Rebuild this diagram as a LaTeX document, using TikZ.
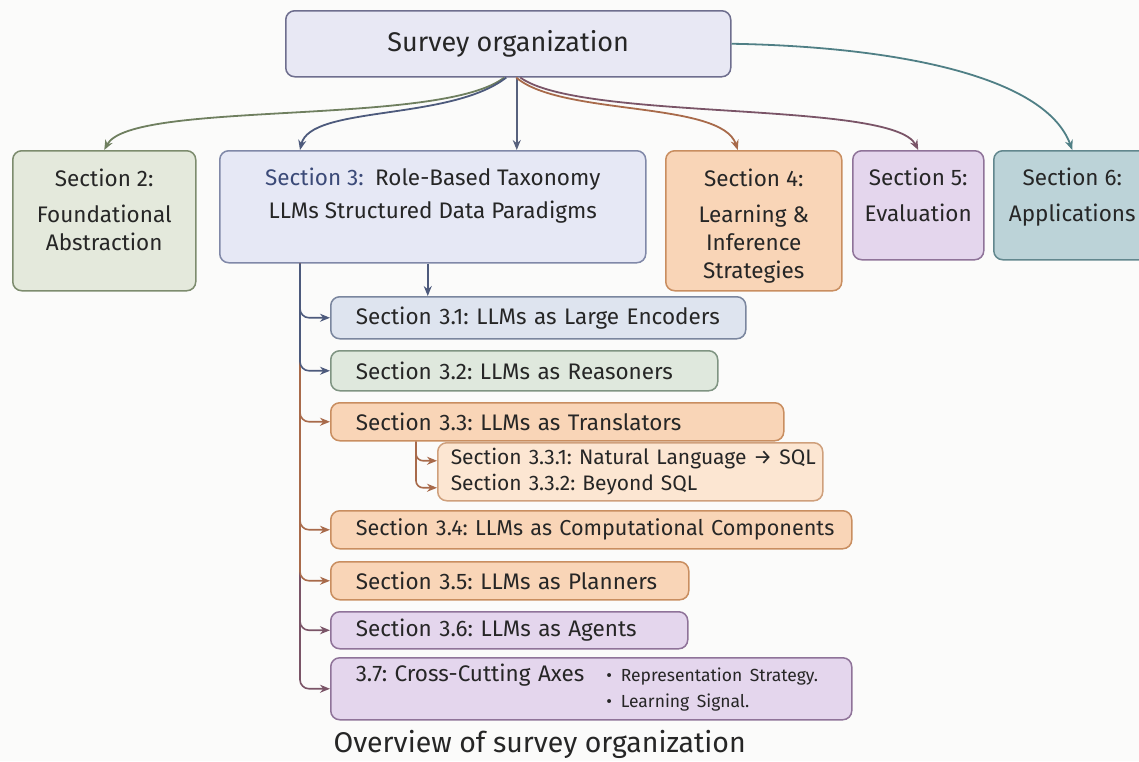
\documentclass[tikz,border=0pt]{standalone}
\usepackage{fontspec}
\setmainfont{Fira Sans}
\usepackage{tikz}
\usetikzlibrary{positioning, arrows.meta}
\frenchspacing

\definecolor{paper}{HTML}{FBFBFA}
\definecolor{ink}{HTML}{262626}
\definecolor{secblue}{HTML}{3B4A78}
\definecolor{rootfill}{HTML}{E8E8F4}
\definecolor{rootline}{HTML}{6E6E8E}
\definecolor{greenfill}{HTML}{E4E9DC}
\definecolor{greenline}{HTML}{7D8C6E}
\definecolor{lilacfill}{HTML}{E6E8F5}
\definecolor{lilacline}{HTML}{8088A8}
\definecolor{orangefill}{HTML}{F9D5B7}
\definecolor{orangeline}{HTML}{C98E60}
\definecolor{purplefill}{HTML}{E4D6ED}
\definecolor{purpleline}{HTML}{8F7399}
\definecolor{tealfill}{HTML}{BCD3D8}
\definecolor{tealline}{HTML}{62878E}
\definecolor{bluefill}{HTML}{DEE4EF}
\definecolor{blueline}{HTML}{7A869E}
\definecolor{sagefill}{HTML}{DFE8DD}
\definecolor{sageline}{HTML}{7F9482}
\definecolor{peachfill}{HTML}{FCE6D2}
\definecolor{peachline}{HTML}{CFA07C}
% arrow colours
\definecolor{olivearr}{HTML}{6F7F5F}
\definecolor{bluearr}{HTML}{4D5A7C}
\definecolor{brownarr}{HTML}{A86A4A}
\definecolor{plumarr}{HTML}{7A5467}
\definecolor{tealarr}{HTML}{4F7F85}

% heading text sitting at the top of a tall box
\newcommand{\headtext}[3]{\parbox[c][#2][t]{#1}{\centering #3}}

\begin{document}
\begin{tikzpicture}[x=1pt, y=-1pt, >={Stealth[length=10pt, width=8pt]}]
        \tikzstyle{every node}=[text=ink, font=\fontsize{22.5}{28}\selectfont]
        \tikzstyle{box}=[draw, rounded corners=9pt, line width=1.5pt, anchor=north west, inner sep=0pt]
        \tikzstyle{row}=[box, align=left, execute at begin node={\hspace*{25pt}}]
        \tikzstyle{link}=[->, line width=1.8pt]
        \tikzstyle{branch}=[->, line width=1.6pt, rounded corners=9pt, >={Stealth[length=10pt, width=8pt]}]

        \useasboundingbox (0,0) rectangle (1139,761);
        \fill[paper] (0,0) rectangle (1139,761);

        % top level
        \node (root) [box, fill=rootfill, draw=rootline, minimum width=445pt, minimum height=66pt,
                      font=\fontsize{27}{32}\selectfont] at (285,10) {Survey organization};

        \node (s2) [box, fill=greenfill, draw=greenline, minimum width=183pt, minimum height=140pt] at (12,150)
            {\headtext{178pt}{104pt}{Section 2:\\[8pt] Foundational\\ Abstraction}};
        \node (s3) [box, fill=lilacfill, draw=lilacline, minimum width=426pt, minimum height=112pt] at (219,150)
            {\headtext{415pt}{78pt}{\textcolor{secblue}{Section 3:}\enspace Role-Based Taxonomy\\[5pt] LLMs Structured Data Paradigms}};
        \node (s4) [box, fill=orangefill, draw=orangeline, minimum width=176pt, minimum height=140pt] at (665,150)
            {\headtext{172pt}{104pt}{Section 4:\\[8pt] Learning \&\\ Inference\\ Strategies}};
        \node (s5) [box, fill=purplefill, draw=purpleline, minimum width=131pt, minimum height=109pt] at (852,150)
            {\headtext{129pt}{75pt}{Section 5:\\[8pt] Evaluation}};
        \node (s6) [box, fill=tealfill, draw=tealline, minimum width=157pt, minimum height=109pt] at (993,150)
            {\headtext{152pt}{75pt}{Section 6:\\[8pt] Applications}};

        % roles under section 3
        \node (s31) [row, fill=bluefill, draw=blueline, text width=415pt, minimum height=42pt] at (330,296)
            {Section 3.1: LLMs as Large Encoders};
        \node (s32) [row, fill=sagefill, draw=sageline, text width=387pt, minimum height=40pt] at (330,350)
            {Section 3.2: LLMs as Reasoners};
        \node (s33) [row, fill=orangefill, draw=orangeline, text width=453pt, minimum height=38pt] at (330,402)
            {Section 3.3: LLMs as Translators};
        \node (s33x) [box, fill=peachfill, draw=peachline, text width=385pt, minimum height=58pt,
                      font=\fontsize{21}{27}\selectfont] at (437,442)
            {\begin{tabular}{@{\hspace{13pt}}l@{}}
                Section 3.3.1: Natural Language → SQL\\[-1pt]
                Section 3.3.2: Beyond SQL
             \end{tabular}};
        \node (s34) [row, fill=orangefill, draw=orangeline, text width=521pt, minimum height=38pt,
                     font=\fontsize{21.6}{28}\selectfont] at (330,510)
            {Section 3.4: LLMs as Computational Components};
        \node (s35) [row, fill=orangefill, draw=orangeline, text width=358pt, minimum height=38pt] at (330,561)
            {Section 3.5: LLMs as Planners};
        \node (s36) [row, fill=purplefill, draw=purpleline, text width=357pt, minimum height=37pt] at (330,611)
            {Section 3.6: LLMs as Agents};
        \node (s37) [row, fill=purplefill, draw=purpleline, text width=521pt, minimum height=62pt] at (330,657)
            {\begin{tabular}{@{}l@{\hspace{22pt}}l@{}}
                3.7: Cross-Cutting Axes & {\fontsize{17.5}{26}\selectfont\textbullet\enspace Representation Strategy.}\\[-2pt]
                & {\fontsize{17.5}{26}\selectfont\textbullet\enspace Learning Signal.}
             \end{tabular}};

        \node (caption) [anchor=base west, font=\fontsize{28.5}{32}\selectfont] at (330,752)
            {Overview of survey organization};

        % links from the root
        \path[link, olivearr] ([xshift=-4pt]root.south) edge [out=-142, in=62, out distance=80pt, in distance=57pt] (s2.north);
        \path[link, bluearr]  ([xshift=-2pt]root.south) edge [out=-142, in=77, out distance=71pt, in distance=46pt] ([xshift=81pt]s3.north west);
        \path[link, bluearr!80!gray] ([xshift=8.5pt]root.south) edge ([xshift=84pt]s3.north);
        \path[link, brownarr] ([xshift=8pt]root.south) edge [out=-41, in=108, out distance=59pt, in distance=52pt] ([xshift=-16pt]s4.north);
        \path[link, plumarr]  ([xshift=12pt]root.south) edge [out=-36, in=117, out distance=75pt, in distance=56pt] (s5.north);
        \path[link, tealarr]  (root.east) edge [out=-1, in=110, out distance=160pt, in distance=80pt] (s6.north);

        % section 3 trunk, drawn bottom first so upper colours stay on top
        \coordinate (trunk) at ([xshift=81pt]s3.south west);
        \draw[link, bluearr] ([xshift=-5pt]s3.south) -- ([xshift=-5pt]s3.south |- s31.north);
        \draw[branch, plumarr]  (trunk) |- (s37.west);
        \draw[branch, plumarr]  (trunk) |- (s36.west);
        \draw[branch, brownarr] (trunk) |- (s35.west);
        \draw[branch, brownarr] (trunk) |- (s34.west);
        \draw[branch, brownarr] (trunk) |- (s33.west);
        \draw[branch, bluearr]  (trunk) |- (s32.west);
        \draw[branch, bluearr]  (trunk) |- (s31.west);

        % sub-branches of 3.3
        \coordinate (sub) at ([xshift=86pt]s33.south west);
        \draw[branch, brownarr, rounded corners=7pt] (sub) |- ([yshift=-16pt]s33x.west);
        \draw[branch, brownarr, rounded corners=7pt] (sub) |- ([yshift=11pt]s33x.west);
\end{tikzpicture}
\end{document}
